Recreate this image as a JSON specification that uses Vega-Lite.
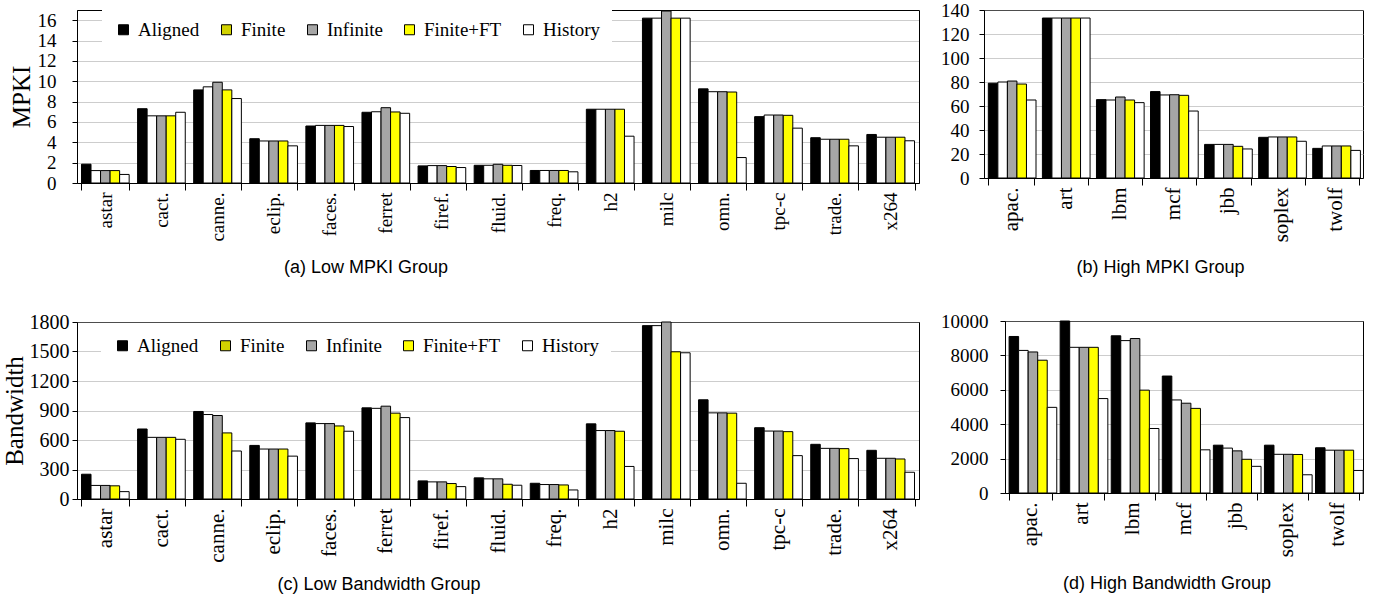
{
  "$schema": "https://vega.github.io/schema/vega-lite/v6.json",
  "padding": {"left": 1, "top": 0, "right": 5, "bottom": 2},
  "datasets": {
    "a": [
      {"b":"astar","s":"Aligned","v":1.85},{"b":"astar","s":"Finite","v":1.22},{"b":"astar","s":"Infinite","v":1.22},{"b":"astar","s":"Finite+FT","v":1.22},{"b":"astar","s":"History","v":0.84},
      {"b":"cact.","s":"Aligned","v":7.3},{"b":"cact.","s":"Finite","v":6.6},{"b":"cact.","s":"Infinite","v":6.6},{"b":"cact.","s":"Finite+FT","v":6.6},{"b":"cact.","s":"History","v":6.95},
      {"b":"canne.","s":"Aligned","v":9.15},{"b":"canne.","s":"Finite","v":9.45},{"b":"canne.","s":"Infinite","v":9.9},{"b":"canne.","s":"Finite+FT","v":9.15},{"b":"canne.","s":"History","v":8.3},
      {"b":"eclip.","s":"Aligned","v":4.35},{"b":"eclip.","s":"Finite","v":4.13},{"b":"eclip.","s":"Infinite","v":4.13},{"b":"eclip.","s":"Finite+FT","v":4.13},{"b":"eclip.","s":"History","v":3.65},
      {"b":"faces.","s":"Aligned","v":5.6},{"b":"faces.","s":"Finite","v":5.66},{"b":"faces.","s":"Infinite","v":5.66},{"b":"faces.","s":"Finite+FT","v":5.66},{"b":"faces.","s":"History","v":5.55},
      {"b":"ferret","s":"Aligned","v":6.95},{"b":"ferret","s":"Finite","v":7.0},{"b":"ferret","s":"Infinite","v":7.4},{"b":"ferret","s":"Finite+FT","v":6.98},{"b":"ferret","s":"History","v":6.85},
      {"b":"firef.","s":"Aligned","v":1.68},{"b":"firef.","s":"Finite","v":1.71},{"b":"firef.","s":"Infinite","v":1.71},{"b":"firef.","s":"Finite+FT","v":1.62},{"b":"firef.","s":"History","v":1.52},
      {"b":"fluid.","s":"Aligned","v":1.74},{"b":"fluid.","s":"Finite","v":1.74},{"b":"fluid.","s":"Infinite","v":1.84},{"b":"fluid.","s":"Finite+FT","v":1.74},{"b":"fluid.","s":"History","v":1.72},
      {"b":"freq.","s":"Aligned","v":1.23},{"b":"freq.","s":"Finite","v":1.23},{"b":"freq.","s":"Infinite","v":1.23},{"b":"freq.","s":"Finite+FT","v":1.23},{"b":"freq.","s":"History","v":1.1},
      {"b":"h2","s":"Aligned","v":7.25},{"b":"h2","s":"Finite","v":7.25},{"b":"h2","s":"Infinite","v":7.25},{"b":"h2","s":"Finite+FT","v":7.25},{"b":"h2","s":"History","v":4.6},
      {"b":"milc","s":"Aligned","v":16.2},{"b":"milc","s":"Finite","v":16.2},{"b":"milc","s":"Infinite","v":16.9},{"b":"milc","s":"Finite+FT","v":16.2},{"b":"milc","s":"History","v":16.2},
      {"b":"omn.","s":"Aligned","v":9.25},{"b":"omn.","s":"Finite","v":8.97},{"b":"omn.","s":"Infinite","v":8.97},{"b":"omn.","s":"Finite+FT","v":8.94},{"b":"omn.","s":"History","v":2.5},
      {"b":"tpc-c","s":"Aligned","v":6.52},{"b":"tpc-c","s":"Finite","v":6.68},{"b":"tpc-c","s":"Infinite","v":6.68},{"b":"tpc-c","s":"Finite+FT","v":6.65},{"b":"tpc-c","s":"History","v":5.39},
      {"b":"trade.","s":"Aligned","v":4.45},{"b":"trade.","s":"Finite","v":4.3},{"b":"trade.","s":"Infinite","v":4.3},{"b":"trade.","s":"Finite+FT","v":4.3},{"b":"trade.","s":"History","v":3.65},
      {"b":"x264","s":"Aligned","v":4.77},{"b":"x264","s":"Finite","v":4.5},{"b":"x264","s":"Infinite","v":4.5},{"b":"x264","s":"Finite+FT","v":4.5},{"b":"x264","s":"History","v":4.15}
    ],
    "b": [
      {"b":"apac.","s":"Aligned","v":79},{"b":"apac.","s":"Finite","v":80},{"b":"apac.","s":"Infinite","v":80.8},{"b":"apac.","s":"Finite+FT","v":78.3},{"b":"apac.","s":"History","v":65},
      {"b":"art","s":"Aligned","v":133.3},{"b":"art","s":"Finite","v":133.3},{"b":"art","s":"Infinite","v":133.3},{"b":"art","s":"Finite+FT","v":133.3},{"b":"art","s":"History","v":133.3},
      {"b":"lbm","s":"Aligned","v":65.3},{"b":"lbm","s":"Finite","v":65},{"b":"lbm","s":"Infinite","v":67.5},{"b":"lbm","s":"Finite+FT","v":65},{"b":"lbm","s":"History","v":62.8},
      {"b":"mcf","s":"Aligned","v":72},{"b":"mcf","s":"Finite","v":69.2},{"b":"mcf","s":"Infinite","v":69.4},{"b":"mcf","s":"Finite+FT","v":68.9},{"b":"mcf","s":"History","v":55.8},
      {"b":"jbb","s":"Aligned","v":28},{"b":"jbb","s":"Finite","v":28},{"b":"jbb","s":"Infinite","v":28},{"b":"jbb","s":"Finite+FT","v":26.4},{"b":"jbb","s":"History","v":24.2},
      {"b":"soplex","s":"Aligned","v":33.9},{"b":"soplex","s":"Finite","v":34.2},{"b":"soplex","s":"Infinite","v":34.2},{"b":"soplex","s":"Finite+FT","v":34.2},{"b":"soplex","s":"History","v":30.6},
      {"b":"twolf","s":"Aligned","v":24.7},{"b":"twolf","s":"Finite","v":26.7},{"b":"twolf","s":"Infinite","v":26.7},{"b":"twolf","s":"Finite+FT","v":26.7},{"b":"twolf","s":"History","v":23}
    ],
    "c": [
      {"b":"astar","s":"Aligned","v":252},{"b":"astar","s":"Finite","v":138},{"b":"astar","s":"Infinite","v":138},{"b":"astar","s":"Finite+FT","v":134},{"b":"astar","s":"History","v":75},
      {"b":"cact.","s":"Aligned","v":712},{"b":"cact.","s":"Finite","v":627},{"b":"cact.","s":"Infinite","v":627},{"b":"cact.","s":"Finite+FT","v":627},{"b":"cact.","s":"History","v":607},
      {"b":"canne.","s":"Aligned","v":890},{"b":"canne.","s":"Finite","v":859},{"b":"canne.","s":"Infinite","v":849},{"b":"canne.","s":"Finite+FT","v":672},{"b":"canne.","s":"History","v":488},
      {"b":"eclip.","s":"Aligned","v":545},{"b":"eclip.","s":"Finite","v":508},{"b":"eclip.","s":"Infinite","v":508},{"b":"eclip.","s":"Finite+FT","v":508},{"b":"eclip.","s":"History","v":436},
      {"b":"faces.","s":"Aligned","v":774},{"b":"faces.","s":"Finite","v":767},{"b":"faces.","s":"Infinite","v":767},{"b":"faces.","s":"Finite+FT","v":743},{"b":"faces.","s":"History","v":689},
      {"b":"ferret","s":"Aligned","v":927},{"b":"ferret","s":"Finite","v":922},{"b":"ferret","s":"Infinite","v":944},{"b":"ferret","s":"Finite+FT","v":873},{"b":"ferret","s":"History","v":828},
      {"b":"firef.","s":"Aligned","v":184},{"b":"firef.","s":"Finite","v":174},{"b":"firef.","s":"Infinite","v":174},{"b":"firef.","s":"Finite+FT","v":157},{"b":"firef.","s":"History","v":126},
      {"b":"fluid.","s":"Aligned","v":215},{"b":"fluid.","s":"Finite","v":205},{"b":"fluid.","s":"Infinite","v":205},{"b":"fluid.","s":"Finite+FT","v":150},{"b":"fluid.","s":"History","v":140},
      {"b":"freq.","s":"Aligned","v":160},{"b":"freq.","s":"Finite","v":147},{"b":"freq.","s":"Infinite","v":147},{"b":"freq.","s":"Finite+FT","v":143},{"b":"freq.","s":"History","v":92},
      {"b":"h2","s":"Aligned","v":764},{"b":"h2","s":"Finite","v":696},{"b":"h2","s":"Infinite","v":696},{"b":"h2","s":"Finite+FT","v":689},{"b":"h2","s":"History","v":331},
      {"b":"milc","s":"Aligned","v":1763},{"b":"milc","s":"Finite","v":1763},{"b":"milc","s":"Infinite","v":1800},{"b":"milc","s":"Finite+FT","v":1497},{"b":"milc","s":"History","v":1487},
      {"b":"omn.","s":"Aligned","v":1009},{"b":"omn.","s":"Finite","v":876},{"b":"omn.","s":"Infinite","v":876},{"b":"omn.","s":"Finite+FT","v":873},{"b":"omn.","s":"History","v":160},
      {"b":"tpc-c","s":"Aligned","v":725},{"b":"tpc-c","s":"Finite","v":691},{"b":"tpc-c","s":"Infinite","v":691},{"b":"tpc-c","s":"Finite+FT","v":685},{"b":"tpc-c","s":"History","v":441},
      {"b":"trade.","s":"Aligned","v":556},{"b":"trade.","s":"Finite","v":515},{"b":"trade.","s":"Infinite","v":515},{"b":"trade.","s":"Finite+FT","v":512},{"b":"trade.","s":"History","v":411},
      {"b":"x264","s":"Aligned","v":495},{"b":"x264","s":"Finite","v":414},{"b":"x264","s":"Infinite","v":414},{"b":"x264","s":"Finite+FT","v":407},{"b":"x264","s":"History","v":272}
    ],
    "d": [
      {"b":"apac.","s":"Aligned","v":9100},{"b":"apac.","s":"Finite","v":8290},{"b":"apac.","s":"Infinite","v":8200},{"b":"apac.","s":"Finite+FT","v":7720},{"b":"apac.","s":"History","v":4980},
      {"b":"art","s":"Aligned","v":10000},{"b":"art","s":"Finite","v":8470},{"b":"art","s":"Infinite","v":8470},{"b":"art","s":"Finite+FT","v":8470},{"b":"art","s":"History","v":5490},
      {"b":"lbm","s":"Aligned","v":9140},{"b":"lbm","s":"Finite","v":8860},{"b":"lbm","s":"Infinite","v":8980},{"b":"lbm","s":"Finite+FT","v":5980},{"b":"lbm","s":"History","v":3750},
      {"b":"mcf","s":"Aligned","v":6800},{"b":"mcf","s":"Finite","v":5410},{"b":"mcf","s":"Infinite","v":5220},{"b":"mcf","s":"Finite+FT","v":4920},{"b":"mcf","s":"History","v":2510},
      {"b":"jbb","s":"Aligned","v":2780},{"b":"jbb","s":"Finite","v":2610},{"b":"jbb","s":"Infinite","v":2450},{"b":"jbb","s":"Finite+FT","v":1960},{"b":"jbb","s":"History","v":1550},
      {"b":"soplex","s":"Aligned","v":2780},{"b":"soplex","s":"Finite","v":2250},{"b":"soplex","s":"Infinite","v":2250},{"b":"soplex","s":"Finite+FT","v":2240},{"b":"soplex","s":"History","v":1060},
      {"b":"twolf","s":"Aligned","v":2630},{"b":"twolf","s":"Finite","v":2490},{"b":"twolf","s":"Infinite","v":2490},{"b":"twolf","s":"Finite+FT","v":2490},{"b":"twolf","s":"History","v":1310}
    ]
  },
  "config": {
    "view": {"stroke": "black", "strokeWidth": 1},
    "axis": {"domainColor": "black", "tickColor": "black", "labelFont": "Liberation Serif", "titleFont": "Liberation Serif", "labelColor": "black", "titleColor": "black", "titleFontWeight": "normal", "gridColor": "#9a9a9a", "gridDash": [1, 1]},
    "axisX": {"grid": false, "labelAngle": -90, "tickBand": "extent", "tickSize": 7, "labelPadding": 2, "title": null, "labelFont": "Liberation Serif"},
    "axisY": {"grid": true, "tickSize": 5, "labelFont": "Liberation Serif", "format": "d"},
    "title": {"font": "Liberation Sans", "fontSize": 18, "fontWeight": "normal", "orient": "bottom", "color": "black", "frame": "group", "anchor": "middle"},
    "bar": {"stroke": "black", "strokeWidth": 1},
    "legend": {"orient": "none", "direction": "horizontal", "columns": 5, "fillColor": "white", "padding": 12, "labelFont": "Liberation Serif", "labelFontSize": 19, "labelColor": "black", "symbolType": "square", "symbolSize": 100, "symbolStrokeColor": "black", "symbolStrokeWidth": 1, "symbolOpacity": 1, "columnPadding": 17, "labelOffset": 5}
  },
  "align": "none",
  "columns": 2,
  "spacing": {"row": 33, "column": 20},
  "resolve": {"scale": {"color": "independent", "fill": "independent"}, "legend": {"color": "independent", "fill": "independent"}},
  "concat": [
    {
      "width": 842, "height": 173,
      "data": {"name": "a"},
      "title": {"text": "(a) Low MPKI Group", "dx": -132, "offset": 18},
      "encoding": {
        "x": {"field": "b", "type": "nominal", "sort": null, "scale": {"paddingInner": 0.15, "paddingOuter": 0.08}, "axis": {"labelFontSize": 19, "labelFont": "Liberation Serif"}},
        "xOffset": {"field": "s", "type": "nominal", "sort": ["Aligned", "Finite", "Infinite", "Finite+FT", "History"], "scale": {"paddingInner": 0, "paddingOuter": 0}},
        "y": {"field": "v", "type": "quantitative", "scale": {"domain": [0, 17], "nice": false}, "axis": {"values": [0, 2, 4, 6, 8, 10, 12, 14, 16], "title": "MPKI", "titleFontSize": 25, "titlePadding": 3, "labelFont": "Liberation Serif", "labelFontSize": 19, "labelPadding": 16}}
      },
      "layer": [
        {"mark": "bar", "encoding": {"color": {"field": "s", "type": "nominal", "scale": {"domain": ["Aligned", "Finite", "Infinite", "Finite+FT", "History"], "range": ["#000000", "#ffffff", "#a6a6a6", "#ffff00", "#ffffff"]}, "legend": null}}},
        {"mark": {"type": "bar", "opacity": 0}, "encoding": {"fill": {"field": "s", "type": "nominal", "scale": {"domain": ["Aligned", "Finite", "Infinite", "Finite+FT", "History"], "range": ["#000000", "#d2d200", "#a6a6a6", "#ffff00", "#ffffff"]}, "legend": {"title": null, "legendX": 25, "legendY": -2}}}}
      ],
      "resolve": {"scale": {"color": "independent", "fill": "independent"}}
    },
    {
      "width": 379, "height": 168,
      "data": {"name": "b"},
      "title": {"text": "(b) High MPKI Group", "dx": -13, "offset": 17},
      "mark": "bar",
      "encoding": {
        "x": {"field": "b", "type": "nominal", "sort": null, "scale": {"paddingInner": 0.15, "paddingOuter": 0.08}, "axis": {"labelFontSize": 21, "labelFont": "Liberation Serif"}},
        "xOffset": {"field": "s", "type": "nominal", "sort": ["Aligned", "Finite", "Infinite", "Finite+FT", "History"], "scale": {"paddingInner": 0, "paddingOuter": 0}},
        "y": {"field": "v", "type": "quantitative", "scale": {"domain": [0, 140], "nice": false}, "axis": {"values": [0, 20, 40, 60, 80, 100, 120, 140], "title": null, "labelFont": "Liberation Serif", "labelFontSize": 19, "labelPadding": 10}},
        "color": {"field": "s", "type": "nominal", "scale": {"domain": ["Aligned", "Finite", "Infinite", "Finite+FT", "History"], "range": ["#000000", "#ffffff", "#a6a6a6", "#ffff00", "#ffffff"]}, "legend": null}
      }
    },
    {
      "width": 842, "height": 177,
      "data": {"name": "c"},
      "title": {"text": "(c) Low Bandwidth Group", "dx": -119, "offset": 14},
      "encoding": {
        "x": {"field": "b", "type": "nominal", "sort": null, "scale": {"paddingInner": 0.15, "paddingOuter": 0.08}, "axis": {"labelFontSize": 21, "labelFont": "Liberation Serif"}},
        "xOffset": {"field": "s", "type": "nominal", "sort": ["Aligned", "Finite", "Infinite", "Finite+FT", "History"], "scale": {"paddingInner": 0, "paddingOuter": 0}},
        "y": {"field": "v", "type": "quantitative", "scale": {"domain": [0, 1800], "nice": false}, "axis": {"values": [0, 300, 600, 900, 1200, 1500, 1800], "title": "Bandwidth", "titleFontSize": 25, "titlePadding": 2, "labelFont": "Liberation Serif", "labelFontSize": 20, "labelPadding": 3}}
      },
      "layer": [
        {"mark": "bar", "encoding": {"color": {"field": "s", "type": "nominal", "scale": {"domain": ["Aligned", "Finite", "Infinite", "Finite+FT", "History"], "range": ["#000000", "#ffffff", "#a6a6a6", "#ffff00", "#ffffff"]}, "legend": null}}},
        {"mark": {"type": "bar", "opacity": 0}, "encoding": {"fill": {"field": "s", "type": "nominal", "scale": {"domain": ["Aligned", "Finite", "Infinite", "Finite+FT", "History"], "range": ["#000000", "#d2d200", "#a6a6a6", "#ffff00", "#ffffff"]}, "legend": {"title": null, "legendX": 24, "legendY": 2}}}}
      ],
      "resolve": {"scale": {"color": "independent", "fill": "independent"}}
    },
    {
      "width": 358, "height": 172,
      "data": {"name": "d"},
      "title": {"text": "(d) High Bandwidth Group", "dx": -17, "offset": 18},
      "mark": "bar",
      "encoding": {
        "x": {"field": "b", "type": "nominal", "sort": null, "scale": {"paddingInner": 0.15, "paddingOuter": 0.08}, "axis": {"labelFontSize": 21, "labelFont": "Liberation Serif"}},
        "xOffset": {"field": "s", "type": "nominal", "sort": ["Aligned", "Finite", "Infinite", "Finite+FT", "History"], "scale": {"paddingInner": 0, "paddingOuter": 0}},
        "y": {"field": "v", "type": "quantitative", "scale": {"domain": [0, 10000], "nice": false}, "axis": {"values": [0, 2000, 4000, 6000, 8000, 10000], "title": null, "labelFont": "Liberation Serif", "labelFontSize": 19, "labelPadding": 12}},
        "color": {"field": "s", "type": "nominal", "scale": {"domain": ["Aligned", "Finite", "Infinite", "Finite+FT", "History"], "range": ["#000000", "#ffffff", "#a6a6a6", "#ffff00", "#ffffff"]}, "legend": null}
      }
    }
  ]
}
